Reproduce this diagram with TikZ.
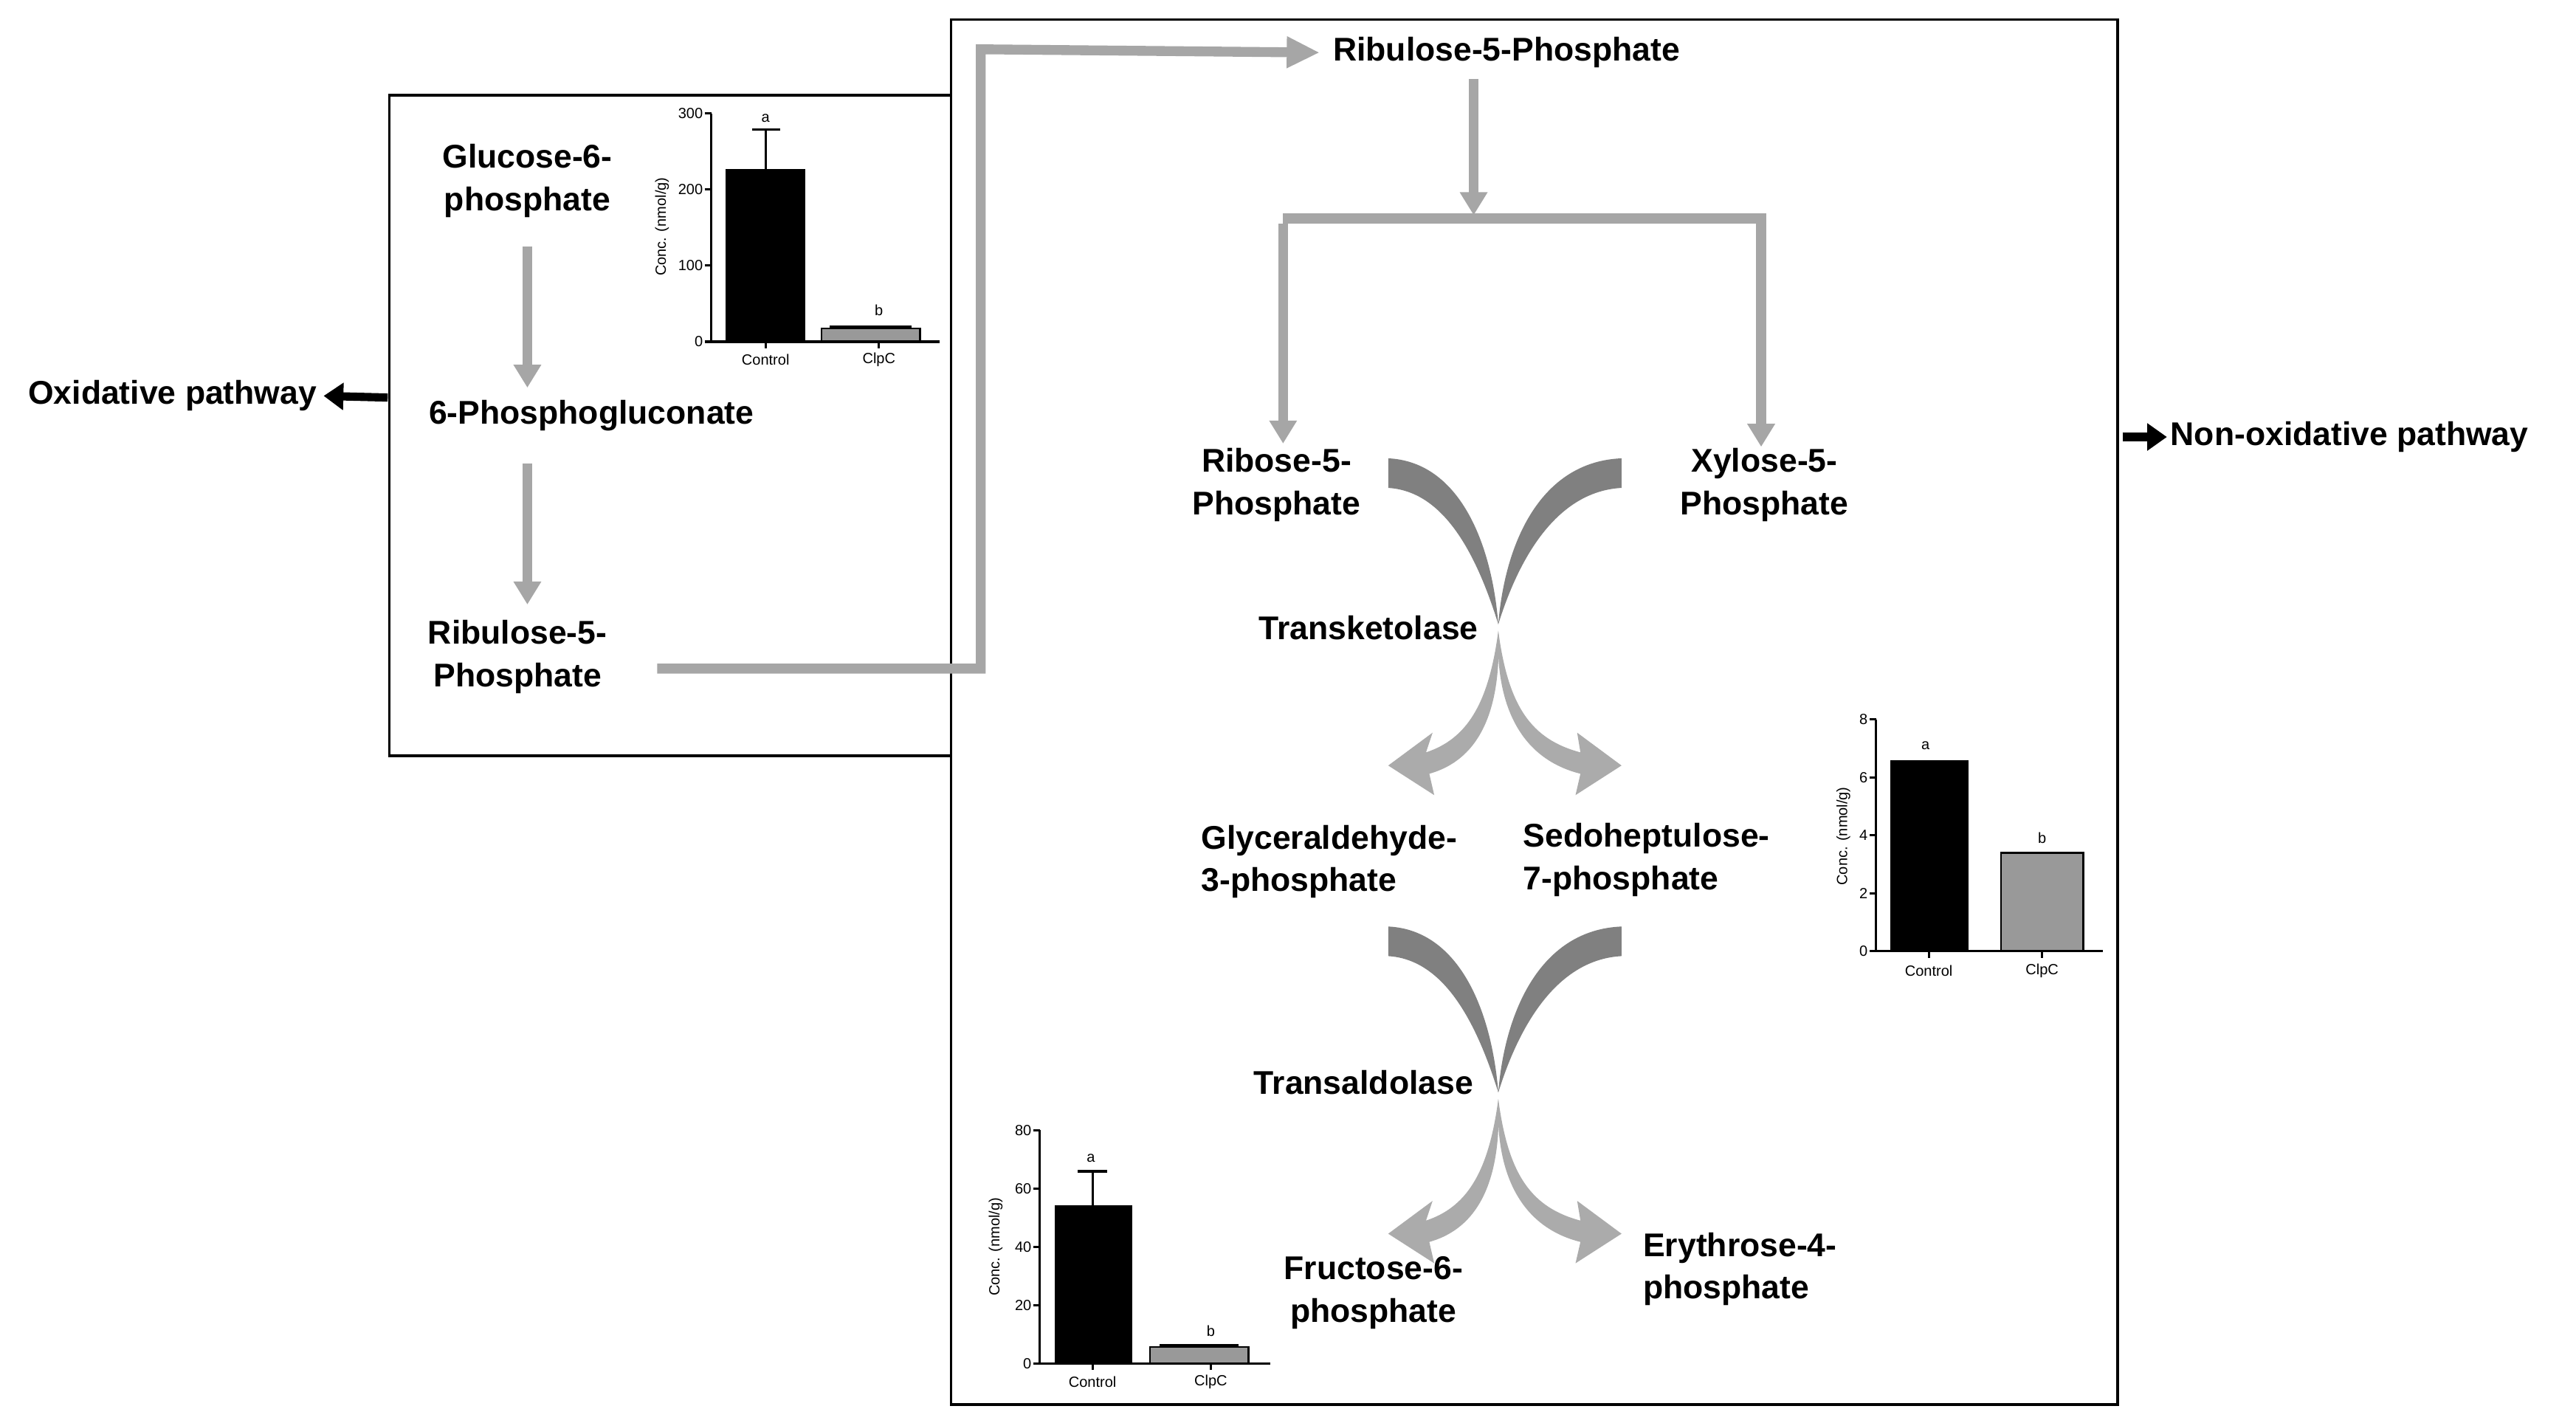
\documentclass[tikz,border=0pt]{standalone}
\usepackage{fontspec}
\setmainfont{Liberation Sans}
\usetikzlibrary{arrows.meta}
\begin{document}
\begin{tikzpicture}[x=1pt,y=-1pt,
  lab/.style={font=\fontsize{20}{26}\selectfont\bfseries,align=left,inner sep=0},
  labc/.style={font=\fontsize{20}{26}\selectfont\bfseries,align=center,inner sep=0},
  garr/.style={draw=black!35,line width=6,-{Triangle[width=16,length=14]}},
  gline/.style={draw=black!35,line width=6},
  box/.style={draw=black,line width=1.5},
  sm/.style={font=\fontsize{9}{10}\selectfont,inner sep=1},
  ax/.style={line width=1.4},
  darkc/.style={fill=black!48},
  lightc/.style={fill=black!30}]
\useasboundingbox (0,0) rectangle (1568,866);
\fill[white] (0,0) rectangle (1568,866);
% boxes
\draw[box] (237,58) rectangle (579,460);
\draw[box] (579,12) rectangle (1289,855);
% left box texts
\node[labc] (g6p) at (321,110) {Glucose-6-\\phosphate};
\node[lab] (pg) at (360,253) {6-Phosphogluconate};
\node[labc] (r5pl) at (315,400) {Ribulose-5-\\Phosphate};
\coordinate (a1s) at (321,150); \coordinate (a1e) at (321,236);
\coordinate (a2s) at (321,282); \coordinate (a2e) at (321,368);
\draw[garr] (a1s) -- (a1e);
\draw[garr] (a2s) -- (a2e);
% connection
\node[lab] (r5pt) at (917,32) {Ribulose-5-Phosphate};
\coordinate (c0) at (400,407);
\draw[gline,-{Triangle[width=18,length=20]}] (c0) -- (597,407) -- (597,30) -- ([xshift=-8]r5pt.west);
% split
\coordinate (s0) at (897,48); \coordinate (s1) at (897,131);
\draw[garr] (s0) -- (s1);
\coordinate (sl) at (781,270); \coordinate (sr) at (1072,272);
\draw[garr] (781,133) |- (1072,133) -- (sr);
\draw[garr] (781,136) -- (sl);
\node[labc] (rib) at (777,295) {Ribose-5-\\Phosphate};
\node[labc] (xyl) at (1074,295) {Xylose-5-\\Phosphate};
\node[lab] (tk) at (833,382) {Transketolase};
\node[lab,anchor=north west] (gap) at (731,502) {Glyceraldehyde-\\3-phosphate};
\node[lab,anchor=north west] (s7p) at (927,501) {Sedoheptulose-\\7-phosphate};
\node[lab] (ta) at (830,659) {Transaldolase};
\node[labc] (f6p) at (836,787) {Fructose-6-\\phosphate};
\node[lab,anchor=north west] (e4p) at (1000,750) {Erythrose-4-\\phosphate};
% curved arrows
\foreach \dy in {0,285}{
\begin{scope}[yshift=-\dy]
\fill[black!50] (845,279) .. controls (888,281) and (908,330) .. (912,380) .. controls (898,335) and (878,299) .. (845,297) -- cycle;
\fill[black!50] (987,279) .. controls (938,281) and (916,330) .. (912,380) .. controls (926,335) and (950,299) .. (987,297) -- cycle;
\fill[black!33] (912,384) .. controls (906,430) and (892,450) .. (868,458) -- (872,446) -- (845,466) -- (873,484) -- (870,471) .. controls (902,462) and (914,430) .. (912,384) -- cycle;
\fill[black!33] (912,384) .. controls (918,430) and (932,450) .. (962,458) -- (960,446) -- (987,466) -- (959,484) -- (962,471) .. controls (926,462) and (910,430) .. (912,384) -- cycle;
\end{scope}}
% pathway arrows
\node[font=\fontsize{20}{24}\selectfont\bfseries,inner sep=0] (ox) at (105,241) {Oxidative pathway};
\coordinate (oxs) at (236,242);
\draw[line width=5,-{Triangle[width=16,length=12]}] (oxs) -- ([xshift=4]ox.east);
\node[font=\fontsize{20}{24}\selectfont\bfseries,inner sep=0,anchor=west] (nox) at (1321,266) {Non-oxidative pathway};
\coordinate (noxs) at (1292,266);
\draw[line width=5,-{Triangle[width=16,length=12]}] (noxs) -- ([xshift=-2]nox.west);
% chart 1
\begin{scope}
\filldraw[fill=black] (442,103) rectangle (490,208);
\filldraw[fill=black!40,line width=1.2] (500,200) rectangle (560,208);
\draw[line width=1.4] (466,103) -- (466,79) (458,79) -- (475,79);
\draw[line width=1.4] (505,199) -- (555,199);
\draw[ax] (433,69) -- (433,208) -- (572,208);
\foreach \v/\y in {0/208,100/161.7,200/115.3,300/69} {\draw[ax] (429,\y)--(433,\y); \node[sm,anchor=east] at (429,\y) {\v};}
\draw[ax] (466,208)--(466,212) (535,208)--(535,212);
\node[sm] at (466,219) {Control};
\node[sm] at (535,219) {ClpC};
\node[sm] at (466,72) {a};
\node[sm] at (535,189) {b};
\node[sm,rotate=90] at (403,138) {Conc. (nmol/g)};
\end{scope}
% chart 2
\begin{scope}
\filldraw[fill=black] (1151,463) rectangle (1198,579);
\filldraw[fill=black!40,line width=1.2] (1218,519) rectangle (1268,579);
\draw[ax] (1142,438) -- (1142,579) -- (1280,579);
\foreach \v/\y in {0/579,2/543.75,4/508.5,6/473.25,8/438} {\draw[ax] (1138,\y)--(1142,\y); \node[sm,anchor=east] at (1138,\y) {\v};}
\draw[ax] (1174,579)--(1174,583) (1243,579)--(1243,583);
\node[sm] at (1174,591) {Control};
\node[sm] at (1243,591) {ClpC};
\node[sm] at (1172,454) {a};
\node[sm] at (1243,510) {b};
\node[sm,rotate=90] at (1122,509) {Conc. (nmol/g)};
\end{scope}
% chart 3
\begin{scope}
\filldraw[fill=black] (642,734) rectangle (689,830);
\filldraw[fill=black!40,line width=1.2] (700,820) rectangle (760,830);
\draw[line width=1.4] (665,734) -- (665,713) (656,713) -- (674,713);
\draw[line width=1.4] (706,819) -- (754,819);
\draw[ax] (633,688) -- (633,830) -- (773,830);
\foreach \v/\y in {0/830,20/794.5,40/759,60/723.5,80/688} {\draw[ax] (629,\y)--(633,\y); \node[sm,anchor=east] at (629,\y) {\v};}
\draw[ax] (665,830)--(665,834) (737,830)--(737,834);
\node[sm] at (665,841) {Control};
\node[sm] at (737,841) {ClpC};
\node[sm] at (664,705) {a};
\node[sm] at (737,810) {b};
\node[sm,rotate=90] at (606,759) {Conc. (nmol/g)};
\end{scope}
\end{tikzpicture}
\end{document}
